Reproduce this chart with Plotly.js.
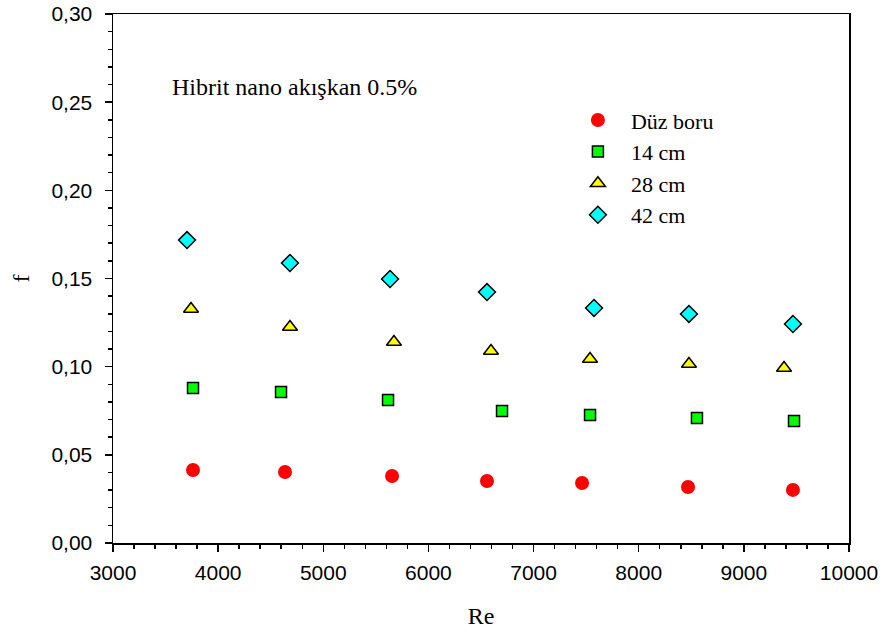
<!DOCTYPE html>
<html>
<head>
<meta charset="utf-8">
<script src="https://cdn.plot.ly/plotly-3.0.1.min.js"></script>
<style>html,body{margin:0;padding:0;background:#fff;}#chart{width:884px;height:635px;}</style>
</head>
<body>
<div id="chart"></div>
<script>
// Data
const seriesNames = ["Düz boru", "14 cm", "28 cm", "42 cm"];
const reDuz = [3761, 4636, 5654, 6557, 7461, 8469, 9467];
const fDuz  = [0.0414, 0.0403, 0.0380, 0.0352, 0.0340, 0.0318, 0.0301];
const re14  = [3761, 4598, 5616, 6700, 7537, 8554, 9477];
const f14   = [0.0879, 0.0856, 0.0811, 0.0748, 0.0726, 0.0709, 0.0692];
const re28  = [3742, 4683, 5672, 6595, 7537, 8478, 9382];
const f28   = [0.1327, 0.1225, 0.1140, 0.1089, 0.1043, 0.1015, 0.0992];
const re42  = [3704, 4683, 5635, 6557, 7575, 8478, 9467];
const f42   = [0.1718, 0.1588, 0.1497, 0.1423, 0.1333, 0.1299, 0.1242];
const xTickVals = [3000, 4000, 5000, 6000, 7000, 8000, 9000, 10000];
const yTickVals = [0, 0.05, 0.10, 0.15, 0.20, 0.25, 0.30];

const serif = "Liberation Serif, Times New Roman, serif";
const sans = "Liberation Sans, Arial, sans-serif";
const line = {color: "black", width: 1.5};

const traces = [
  {x: reDuz, y: fDuz, name: seriesNames[0], mode: "markers", type: "scatter",
   marker: {symbol: "circle", size: 14, color: "#FF0000", line: {width: 0}}},
  {x: re14, y: f14, name: seriesNames[1], mode: "markers", type: "scatter",
   marker: {symbol: "square", size: 11, color: "#00FF00", line: line}},
  {x: re28, y: f28, name: seriesNames[2], mode: "markers", type: "scatter",
   marker: {symbol: "triangle-up", size: 13, color: "#FFFF00", line: line}},
  {x: re42, y: f42, name: seriesNames[3], mode: "markers", type: "scatter",
   marker: {symbol: "diamond", size: 13, color: "#00FFFF", line: line}}
];

const layout = {
  width: 884, height: 635,
  margin: {l: 113, r: 35, t: 14, b: 92},
  paper_bgcolor: "white", plot_bgcolor: "white",
  separators: ", ",
  showlegend: true,
  legend: {
    x: 0.614, y: 0.839, xanchor: "left", yanchor: "top",
    font: {family: serif, size: 22, color: "black"},
    bgcolor: "rgba(0,0,0,0)", borderwidth: 0,
    itemwidth: 56, tracegroupgap: 0
  },
  xaxis: {
    range: [3000, 10000], tickvals: xTickVals, tickformat: "d",
    showgrid: false, zeroline: false,
    showline: true, linecolor: "black", linewidth: 1.5, mirror: true,
    ticks: "outside", ticklen: 7, tickwidth: 1.5, tickcolor: "black",
    ticklabelstandoff: 3,
    minor: {dtick: 200, tick0: 3000, ticks: "outside", ticklen: 4, tickwidth: 1.5, tickcolor: "black", showgrid: false},
    tickfont: {family: sans, size: 21, color: "black"},
    title: {text: "Re", font: {family: serif, size: 24, color: "black"}, standoff: 24}
  },
  yaxis: {
    range: [0, 0.30], tickvals: yTickVals, tickformat: ".2f",
    showgrid: false, zeroline: false,
    showline: true, linecolor: "black", linewidth: 1.5, mirror: true,
    ticks: "outside", ticklen: 7, tickwidth: 1.5, tickcolor: "black",
    ticklabelstandoff: 8,
    minor: {dtick: 0.01, tick0: 0, ticks: "outside", ticklen: 4, tickwidth: 1.5, tickcolor: "black", showgrid: false},
    tickfont: {family: sans, size: 21, color: "black"},
    title: {text: "f", font: {family: serif, size: 24, color: "black"}, standoff: 15}
  },
  annotations: [{
    text: "Hibrit nano akışkan 0.5%", xref: "paper", yref: "paper",
    x: 0.077, y: 0.862, xanchor: "left", yanchor: "middle", showarrow: false,
    font: {family: serif, size: 24, color: "black"}
  }]
};

Plotly.newPlot("chart", traces, layout, {displayModeBar: false, staticPlot: true});
</script>
</body>
</html>
